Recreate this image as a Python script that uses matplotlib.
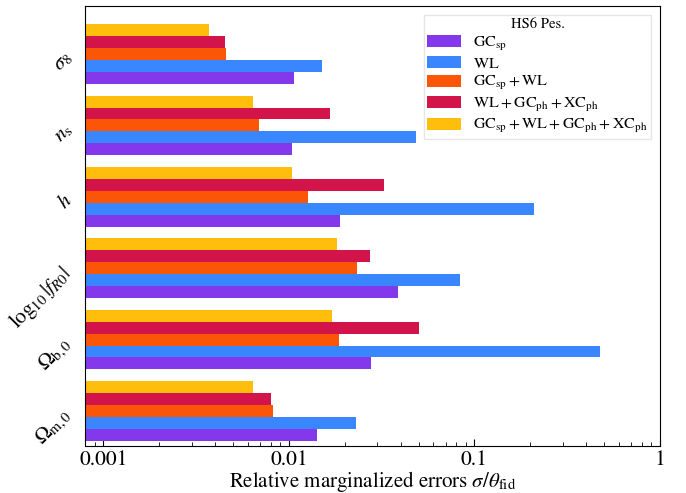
import numpy as np
import matplotlib
matplotlib.use('Agg')
import matplotlib.pyplot as plt
from matplotlib.ticker import FixedLocator, FixedFormatter, LogLocator, NullFormatter

plt.rcParams['font.family'] = ['STIXGeneral', 'DejaVu Serif']
plt.rcParams['mathtext.fontset'] = 'stix'

# parametri (dal basso verso l'alto)
params = [r'$\Omega_{\mathrm{m},0}$', r'$\Omega_{\mathrm{b},0}$', r'$\log_{10}|f_{R0}|$',
          r'$h$', r'$n_{\mathrm{s}}$', r'$\sigma_8$']

probes = [r'$\mathrm{GC_{sp}}$', r'$\mathrm{WL}$', r'$\mathrm{GC_{sp}+WL}$',
          r'$\mathrm{WL+GC_{ph}+XC_{ph}}$', r'$\mathrm{GC_{sp}+WL+GC_{ph}+XC_{ph}}$']
colors = ['#8338EC', '#3A86FF', '#FB5607', '#D2144A', '#FFBE0B']

gc_sp = [0.0141, 0.0277, 0.0387, 0.0188, 0.0104, 0.0106]
wl = [0.0230, 0.475, 0.0835, 0.209, 0.0484, 0.0151]
gc_sp_wl = [0.0082, 0.0186, 0.0233, 0.0127, 0.0069, 0.0046]
wl_ph_xc = [0.0080, 0.0502, 0.0273, 0.0325, 0.0166, 0.00452]
all_probes = [0.0064, 0.0171, 0.0182, 0.0104, 0.0064, 0.00371]

series = [gc_sp, wl, gc_sp_wl, wl_ph_xc, all_probes]

fig = plt.figure(figsize=(6.86, 4.93), dpi=100)
ax = fig.add_axes([0.1246, 0.0953, 0.8374, 0.8925])

y = np.arange(len(params))
h = 1 / 6
for i, (vals, lab, col) in enumerate(zip(series, probes, colors)):
    ax.barh(y + (i - 3) * h, vals, height=h, align='edge', color=col, label=lab, zorder=2)

ax.set_xscale('log')
ax.set_xlim(0.0008, 1)
ax.set_ylim(-0.574, 5.588)
ax.xaxis.set_major_locator(FixedLocator([0.001, 0.01, 0.1, 1]))
ax.xaxis.set_major_formatter(FixedFormatter(['0.001', '0.01', '0.1', '1']))
ax.xaxis.set_minor_locator(LogLocator(base=10, subs=np.arange(2, 10)))
ax.xaxis.set_minor_formatter(NullFormatter())
ax.set_yticks(y)
ax.set_yticklabels(params, rotation=45, fontsize=15, va='top')
ax.tick_params(axis='both', which='major', direction='in', length=5)
ax.tick_params(axis='y', pad=6.5)
ax.tick_params(axis='x', which='minor', direction='in', length=3)
ax.tick_params(axis='x', labelsize=15.5, pad=3)
ax.set_xlabel(r'Relative marginalized errors $\sigma/\theta_{\mathrm{fid}}$', fontsize=15, labelpad=-1)

leg = ax.legend(title='HS6 Pes.', loc='upper right', fontsize=11.5, title_fontsize=10.5,
                handlelength=2.1, handleheight=0.75, handletextpad=0.8, fancybox=False,
                framealpha=1, borderaxespad=0.55, borderpad=0.2, labelspacing=0.22)
leg.get_frame().set_edgecolor('#e6e6e6')
leg.get_frame().set_linewidth(1.0)

fig.savefig('out.png', dpi=100)
